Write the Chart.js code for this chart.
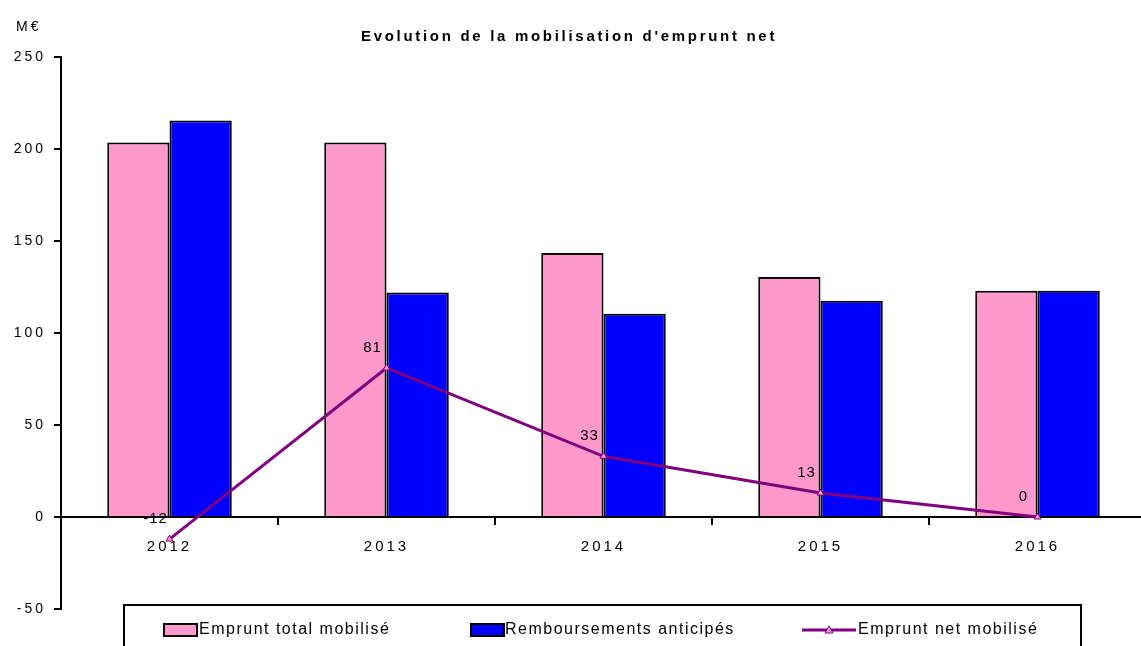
<!DOCTYPE html>
<html lang="fr">
<head>
  <meta charset="UTF-8" />
  <title>Evolution de la mobilisation d'emprunt net</title>
  <script src="https://cdn.jsdelivr.net/npm/chart.js"></script>
  <style>
    html, body { margin: 0; padding: 0; background: #fff; overflow: hidden; }
    /* la zone de tracé déborde un peu à droite, comme sur l'original */
    #wrap { width: 1151px; height: 646px; position: relative; }
  </style>
</head>
<body>
  <div id="wrap"><canvas id="chart"></canvas></div>
  <script>
    // données (M€)
    const years = ['2012', '2013', '2014', '2015', '2016'];
    const empruntTotal = [203.5, 203.5, 143.5, 130.5, 123];
    const remboursements = [215.5, 122, 110.5, 117.5, 123];
    const empruntNet = [-12, 81, 33, 13, 0];
    const yTicks = [-50, 0, 50, 100, 150, 200, 250];

    const titleText = "Evolution de la mobilisation d'emprunt net";
    const unitText = 'M€';
    const FONT = '"Liberation Sans", Arial, sans-serif';

    // titre, unité, étiquettes de la courbe et légende encadrée
    const decorPlugin = {
      id: 'decor',
      beforeDraw(chart) {
        // le graphique d'origine a un texte très espacé
        chart.ctx.letterSpacing = '3px';
      },
      afterDatasetsDraw(chart) {
        const ctx = chart.ctx;
        const meta = chart.getDatasetMeta(2);
        ctx.save();
        ctx.fillStyle = '#000';
        ctx.font = '15px ' + FONT;
        ctx.letterSpacing = '1px';
        ctx.textAlign = 'center';
        ctx.textBaseline = 'middle';
        meta.data.forEach((pt, i) => {
          ctx.fillText(String(empruntNet[i]), pt.x - 14, pt.y - 20);
        });
        ctx.restore();
      },
      afterDraw(chart) {
        const ctx = chart.ctx;
        ctx.save();
        ctx.fillStyle = '#000';
        ctx.textBaseline = 'middle';

        ctx.font = 'bold 15px ' + FONT;
        ctx.letterSpacing = '2.7px';
        ctx.textAlign = 'center';
        ctx.fillText(titleText, 569, 37);

        ctx.letterSpacing = '3px';
        ctx.font = '14px ' + FONT;
        ctx.textAlign = 'left';
        ctx.fillText(unitText, 16, 27);

        // cadre de la légende
        ctx.letterSpacing = '0px';
        ctx.lineWidth = 2;
        ctx.strokeStyle = '#000';
        ctx.strokeRect(124, 605, 957, 60);

        const ds = chart.data.datasets;
        ctx.font = '16px ' + FONT;
        ctx.letterSpacing = '1.5px';
        const ly = 630;
        // item 1
        ctx.fillStyle = ds[0].backgroundColor;
        ctx.fillRect(164, ly - 6, 33, 12);
        ctx.strokeRect(164, ly - 6, 33, 12);
        ctx.fillStyle = '#000';
        ctx.fillText(ds[0].label, 199, ly);
        // item 2
        ctx.fillStyle = ds[1].backgroundColor;
        ctx.fillRect(471, ly - 6, 33, 12);
        ctx.strokeRect(471, ly - 6, 33, 12);
        ctx.fillStyle = '#000';
        ctx.fillText(ds[1].label, 505, ly);
        // item 3
        ctx.strokeStyle = ds[2].borderColor;
        ctx.lineWidth = 3;
        ctx.beginPath();
        ctx.moveTo(802, ly);
        ctx.lineTo(856, ly);
        ctx.stroke();
        ctx.lineWidth = 1;
        ctx.fillStyle = ds[2].pointBackgroundColor;
        ctx.beginPath();
        ctx.moveTo(829, ly - 4);
        ctx.lineTo(833, ly + 3);
        ctx.lineTo(825, ly + 3);
        ctx.closePath();
        ctx.fill();
        ctx.stroke();
        ctx.fillStyle = '#000';
        ctx.fillText(ds[2].label, 858, ly);
        ctx.restore();
      }
    };

    new Chart(document.getElementById('chart'), {
      data: {
        labels: years,
        datasets: [
          {
            type: 'bar',
            label: 'Emprunt total mobilisé',
            data: empruntTotal,
            backgroundColor: '#FF99CC',
            borderColor: '#000',
            borderWidth: 2,
            categoryPercentage: 0.574,
            barPercentage: 1,
            order: 2
          },
          {
            type: 'bar',
            label: 'Remboursements anticipés',
            data: remboursements,
            backgroundColor: '#0000FF',
            borderColor: '#000',
            borderWidth: 2,
            categoryPercentage: 0.574,
            barPercentage: 1,
            order: 2
          },
          {
            type: 'line',
            label: 'Emprunt net mobilisé',
            data: empruntNet,
            borderColor: '#800080',
            borderWidth: 3,
            tension: 0,
            fill: false,
            pointStyle: 'triangle',
            pointRadius: 4,
            pointBackgroundColor: '#FF99CC',
            pointBorderColor: '#800080',
            pointBorderWidth: 1,
            order: 1
          }
        ]
      },
      options: {
        responsive: true,
        maintainAspectRatio: false,
        animation: false,
        layout: { padding: { top: 57, bottom: 37, left: 0, right: 0 } },
        plugins: {
          legend: { display: false },
          title: { display: false },
          tooltip: { enabled: false }
        },
        scales: {
          x: {
            position: { y: 0 },
            offset: true,
            grid: {
              offset: true,
              drawOnChartArea: false,
              drawTicks: true,
              tickLength: 7,
              color: '#000',
              lineWidth: 2
            },
            border: { display: true, color: '#000', width: 2 },
            ticks: {
              color: '#000',
              font: { family: FONT, size: 15 },
              padding: 14
            }
          },
          y: {
            min: -50,
            max: 250,
            afterBuildTicks(scale) {
              scale.ticks = yTicks.map(v => ({ value: v }));
            },
            afterFit(scale) { scale.width = 61; },
            grid: {
              drawOnChartArea: false,
              drawTicks: true,
              tickLength: 7,
              color: '#000',
              lineWidth: 2
            },
            border: { display: true, color: '#000', width: 2 },
            ticks: {
              color: '#000',
              font: { family: FONT, size: 14 },
              padding: 8
            }
          }
        }
      },
      plugins: [decorPlugin]
    });
  </script>
</body>
</html>
